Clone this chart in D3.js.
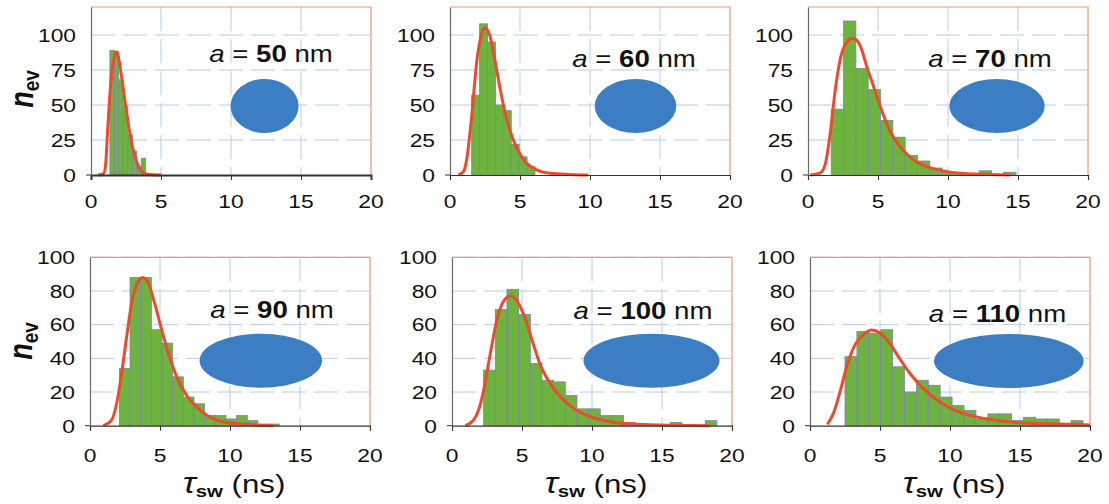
<!DOCTYPE html>
<html><head><meta charset="utf-8">
<script src="https://cdn.jsdelivr.net/npm/d3@7"></script>
<style>
body{margin:0;background:#fff}
svg{display:block}
text{font-family:"Liberation Sans",Arial,sans-serif;fill:#111}
</style>
</head><body><svg id="c" width="1109" height="504"></svg>
<script>
// ---------- data ----------
const xTicks = [0, 5, 10, 15, 20];
const yTicksTop = [0, 25, 50, 75, 100];
const yTicksBottom = [0, 20, 40, 60, 80, 100];
const sizes = [50, 60, 70, 90, 100, 110];           // a (nm)
const binStart = [1.35, 1.55, 1.66, 2.10, 2.26, 2.50]; // ns
const binWidth = [0.32, 0.565, 0.88, 0.761, 0.833, 0.85];
const counts50 = [89, 88, 68, 49, 29, 17, 6, 12];
const counts60 = [57, 108, 95, 50, 46, 22, 13, 6];
const counts70 = [47, 110, 76, 61, 39, 27, 14, 10, 5, 2, 1, 0, 3, 0, 2];
const counts90 = [34, 88, 88, 57, 49, 29, 17, 13, 6, 6, 4, 6, 3, 1, 1];
const counts100 = [33, 69, 81, 66, 37, 27, 26, 18, 10, 10, 6, 6, 2, 1, 0, 0, 2, 0, 0, 3];
const counts110 = [41, 56, 55, 57, 35, 20, 27, 24, 17, 12, 9, 4, 7, 7, 3, 5, 4, 4, 1, 3];
const fit50 = [[0.5,0],[0.9,1],[1.05,8],[1.15,25],[1.3,50],[1.45,70],[1.65,84],[1.83,88],[2.0,82],[2.19,70],[2.55,44],[2.9,23],[3.26,9.5],[3.62,2.5],[4.0,0.5],[5.0,0]];
const fit60 = [[0.6,0],[1.0,3],[1.19,11],[1.55,42],[1.9,80],[2.26,101],[2.5,105],[2.86,99],[3.21,82],[3.57,62],[4.05,40],[4.52,25],[5.0,15],[5.48,8.3],[6.19,3.6],[7.14,1.2],[8.57,0.4],[9.86,0]];
const fit70 = [[0.16,0],[0.88,1.5],[1.24,8],[1.59,30],[1.95,61],[2.31,83],[2.79,95],[3.21,97.6],[3.74,92],[4.21,77],[4.69,63],[5.16,49],[5.88,31],[6.59,20],[7.55,10.7],[8.5,6],[9.93,2.4],[11.8,0.7],[14.45,0]];
const fit90 = [[0.95,0],[1.55,3.4],[1.9,13],[2.26,31],[2.62,53],[2.98,73],[3.33,83.5],[3.76,88],[4.17,84.5],[4.64,72],[5.12,57],[5.6,43],[6.19,29],[6.9,18],[7.86,9.3],[9.05,3.4],[10.7,1],[13.1,0]];
const fit100 = [[0.95,0],[1.55,3.4],[1.9,9.3],[2.26,21],[2.74,43],[3.21,63],[3.69,74],[4.17,77],[4.64,74],[5.12,66],[5.71,51],[6.31,36],[7.02,25],[7.86,16.3],[8.69,10.3],[9.88,5.4],[11.3,2.4],[13.2,0.8],[15.6,0.2],[18.45,0]];
const fit110 = [[1.24,0.8],[1.67,7.3],[2.14,20],[2.62,35],[3.21,48],[3.81,54],[4.4,56.8],[5.0,55],[5.6,50],[6.31,41],[7.14,31],[8.1,22],[9.29,14],[10.48,8.7],[12.14,4.8],[14.05,2.4],[16.43,1.2],[18.8,0.8],[20,0.4]];

const allCounts = [counts50, counts60, counts70, counts90, counts100, counts110];
const allFits = [fit50, fit60, fit70, fit90, fit100, fit110];

// ---------- layout ----------
const SX = 1.2; // horizontal stretch of the original figure
const rows = [
  {yTop: 7, yBot: 175, ymax: 120, ticks: yTicksTop, xLab: 208, yTitleX: 33, yTitleY: 89},
  {yTop: 257.3, yBot: 425.7, ymax: 100, ticks: yTicksBottom, xLab: 462, yTitleX: 32, yTitleY: 341}
];
const panelLayout = [
  {row: 0, x0: 91, x1: 371, ellX: 12.4, labDX: 180, labY: 62},
  {row: 0, x0: 450, x1: 730, ellX: 13.25, labDX: 184, labY: 67},
  {row: 0, x0: 808, x1: 1088, ellX: 13.5, labDX: 182, labY: 67},
  {row: 1, x0: 90, x1: 370, ellX: 12.2, labDX: 182, labY: 318},
  {row: 1, x0: 452, x1: 732, ellX: 14.25, labDX: 191, labY: 319},
  {row: 1, x0: 810, x1: 1090, ellX: 14.2, labDX: 187.5, labY: 322}
];
const ellipseCY = [106, 106, 106, 360.7, 360.7, 361];

const svg = d3.select("#c");

function stretched(parent, x, y, extra) {
  return parent.append("g").attr("transform", `translate(${x},${y}) scale(${SX},1)` + (extra || ""));
}

panelLayout.forEach((p, i) => {
  const r = rows[p.row];
  const x = d3.scaleLinear().domain([0, 20]).range([p.x0, p.x1]);
  const y = d3.scaleLinear().domain([0, r.ymax]).range([r.yBot, r.yTop]);
  const g = svg.append("g");

  // grid
  g.selectAll(".vg").data(xTicks.slice(1, -1)).join("line")
    .attr("x1", d => x(d)).attr("x2", d => x(d)).attr("y1", r.yTop).attr("y2", r.yBot)
    .attr("stroke", "#b8cbe6").attr("stroke-width", 1).attr("stroke-dasharray", "24,8");
  g.selectAll(".hg").data(r.ticks.slice(1)).join("line")
    .attr("x1", p.x0).attr("x2", p.x1).attr("y1", d => y(d)).attr("y2", d => y(d))
    .attr("stroke", "#b8cbe6").attr("stroke-width", 1).attr("stroke-dasharray", "24,8");

  // frame top/right
  g.append("path")
    .attr("d", `M${p.x0},${r.yTop}H${p.x1}V${r.yBot}`)
    .attr("fill", "none").attr("stroke", "#e99a74").attr("stroke-width", 1.2);

  // ellipse
  g.append("ellipse")
    .attr("cx", x(p.ellX)).attr("cy", ellipseCY[i])
    .attr("rx", sizes[i] * 0.68).attr("ry", 27)
    .attr("fill", "#3b7ec3");

  // bars
  const counts = allCounts[i];
  g.selectAll("rect.bar").data(counts).join("rect")
    .attr("class", "bar")
    .attr("x", (d, k) => x(binStart[i] + k * binWidth[i]))
    .attr("width", (d, k) => x(binStart[i] + (k + 1) * binWidth[i]) - x(binStart[i] + k * binWidth[i]))
    .attr("y", d => y(d))
    .attr("height", d => y(0) - y(d))
    .attr("fill", "#6db33f")
    .attr("stroke", "#7f83a3").attr("stroke-width", 0.8);

  // fit curve
  const line = d3.line().x(d => x(d[0])).y(d => y(d[1])).curve(d3.curveMonotoneX);
  g.append("path").datum(allFits[i]).attr("d", line)
    .attr("fill", "none").attr("stroke", "#ee4a2c").attr("stroke-width", 3)
    .attr("stroke-linejoin", "round");

  // axes
  const ax = g.append("g").attr("transform", `translate(0,${r.yBot})`)
    .call(d3.axisBottom(x).tickValues(xTicks).tickSize(5).tickFormat(""));
  ax.select(".domain").attr("stroke", "#3a3030").attr("stroke-width", i === 0 ? 2 : 1.2);
  ax.selectAll(".tick line").attr("stroke", "#3a3030");
  const ay = g.append("g").attr("transform", `translate(${p.x0},0)`)
    .call(d3.axisLeft(y).tickValues(r.ticks).tickSize(0).tickFormat(""));
  ay.select(".domain").attr("stroke", "#6a6a6a").attr("stroke-width", 1.2);
  g.append("line").attr("x1", p.x0 - 5).attr("x2", p.x0).attr("y1", y(0)).attr("y2", y(0))
    .attr("stroke", "#3a3030");

  // tick labels
  xTicks.forEach(t => {
    stretched(g, x(t), r.xLab).append("text").attr("text-anchor", "middle")
      .attr("font-size", 19).text(t);
  });
  r.ticks.forEach(t => {
    stretched(g, p.x0 - 15, y(t) + 6.8).append("text").attr("text-anchor", "end")
      .attr("font-size", 19).text(t);
  });

  // size label
  const lt = stretched(g, p.x0 + p.labDX, p.labY).append("text")
    .attr("text-anchor", "middle").attr("font-size", 23);
  lt.append("tspan").attr("font-style", "italic").text("a");
  lt.append("tspan").text(" = ");
  lt.append("tspan").attr("font-weight", "bold").text(sizes[i]);
  lt.append("tspan").text(" nm");

  // x title (bottom row)
  if (p.row === 1) {
    const xt = stretched(g, (p.x0 + p.x1) / 2 + 4, 493).append("text")
      .attr("text-anchor", "middle").attr("font-size", 26);
    xt.append("tspan").attr("font-style", "italic").attr("font-size", 29).text("τ");
    xt.append("tspan").attr("font-weight", "bold").attr("font-size", 17).attr("dy", 4).text("sw");
    xt.append("tspan").attr("dy", -4).text(" (ns)");
  }
  // y title (first column)
  if (i === 0 || i === 3) {
    const yt = stretched(g, r.yTitleX, r.yTitleY, " rotate(-90)").append("text")
      .attr("text-anchor", "middle").attr("font-size", 27).attr("font-weight", "bold");
    yt.append("tspan").attr("font-style", "italic").text("n");
    yt.append("tspan").attr("font-size", 19).attr("dy", 5).text("ev");
  }
});
</script>
</body></html>
